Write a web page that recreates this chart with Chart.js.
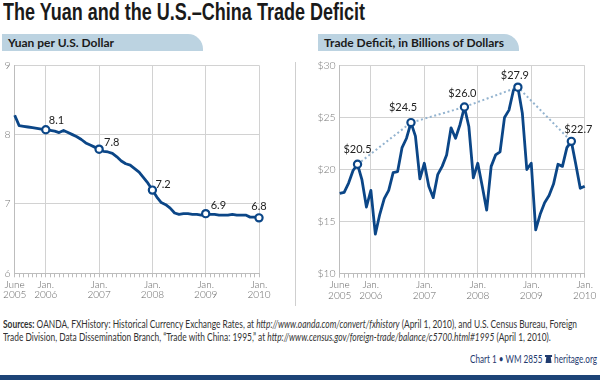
<!DOCTYPE html>
<html>
<head>
<meta charset="utf-8">
<script src="https://cdn.jsdelivr.net/npm/chart.js@4"></script>
<style>
  body { margin: 0; width: 600px; height: 380px; background: #fff; position: relative; overflow: hidden; font-family: Lato, "Open Sans", sans-serif; }
  #title { position: absolute; left: 3px; top: -1px; font-family: "Liberation Sans", sans-serif; font-weight: bold; font-size: 23px; color: #1a1a1a; white-space: nowrap; transform-origin: 0 0; }
  .banner { position: absolute; top: 34px; height: 17px; background: #bcd3e1; border-top-right-radius: 15px; font-weight: bold; font-size: 12px; line-height: 17px; color: #1a1a1a; white-space: nowrap; }
  #b1 { left: 2px; width: 201px; padding-left: 6px; box-sizing: border-box; }
  #b2 { left: 318px; width: 201px; padding-left: 6px; box-sizing: border-box; }
  #sep { position: absolute; left: 295px; top: 62px; width: 1px; height: 244px; background: #cfcfcf; }
  canvas { position: absolute; }
  #c1 { left: 0; top: 55px; }
  #c2 { left: 300px; top: 55px; }
  #src { position: absolute; left: 3px; top: 318px; font-family: Lato, sans-serif; font-size: 10.5px; line-height: 13px; color: #333; white-space: nowrap; transform-origin: 0 0; }
  #credit { position: absolute; left: 470px; top: 352px; font-family: Lato, sans-serif; font-size: 11px; color: #1f3a6e; white-space: nowrap; transform-origin: 0 0; }
  #bar { position: absolute; left: 0; top: 375px; width: 600px; height: 5px; background: #1d4477; }
</style>
</head>
<body>
<div id="title">The Yuan and the U.S.–China Trade Deficit</div>
<div class="banner" id="b1">Yuan per U.S. Dollar</div>
<div class="banner" id="b2">Trade Deficit, in Billions of Dollars</div>
<div id="sep"></div>
<canvas id="c1" width="290" height="252"></canvas>
<canvas id="c2" width="300" height="252"></canvas>
<div id="src"><span id="srcLine"><b>Sources:</b> OANDA, FXHistory: Historical Currency Exchange Rates, at <i>http://www.oanda.com/convert/fxhistory</i> (April 1, 2010), and U.S. Census Bureau, Foreign</span><br>Trade Division, Data Dissemination Branch, “Trade with China: 1995,” at <i>http://www.census.gov/foreign-trade/balance/c5700.html#1995</i> (April 1, 2010).</div>
<div id="credit">Chart 1 • WM 2855 <svg width="10" height="10" viewBox="0 0 10 10" style="vertical-align:-1px"><rect x="0" y="1" width="10" height="2" fill="#1f3a6e"/><path d="M2 3 L8 3 L9 9 L1 9 Z" fill="#1f3a6e"/></svg> heritage.org</div>
<div id="bar"></div>

<script>
// ===== 数据 =====
const months = [
    "2005-06", "2005-07", "2005-08", "2005-09", "2005-10", "2005-11", "2005-12",
    "2006-01", "2006-02", "2006-03", "2006-04", "2006-05", "2006-06", "2006-07", "2006-08", "2006-09", "2006-10", "2006-11", "2006-12",
    "2007-01", "2007-02", "2007-03", "2007-04", "2007-05", "2007-06", "2007-07", "2007-08", "2007-09", "2007-10", "2007-11", "2007-12",
    "2008-01", "2008-02", "2008-03", "2008-04", "2008-05", "2008-06", "2008-07", "2008-08", "2008-09", "2008-10", "2008-11", "2008-12",
    "2009-01", "2009-02", "2009-03", "2009-04", "2009-05", "2009-06", "2009-07", "2009-08", "2009-09", "2009-10", "2009-11", "2009-12",
    "2010-01"
];

// 人民币 / 美元
const yuanPerDollar = [
    8.28, 8.13, 8.12, 8.11, 8.10, 8.09, 8.08,
    8.07, 8.06, 8.05, 8.03, 8.06, 8.03, 8.00, 7.97, 7.93, 7.88, 7.85, 7.82,
    7.79, 7.76, 7.75, 7.73, 7.68, 7.62, 7.58, 7.56, 7.51, 7.46, 7.38, 7.30,
    7.20, 7.10, 7.02, 6.99, 6.94, 6.87, 6.85, 6.86, 6.86, 6.85, 6.85, 6.84,
    6.86, 6.85, 6.85, 6.84, 6.84, 6.84, 6.85, 6.84, 6.84, 6.84, 6.81, 6.81,
    6.80
];

// 贸易逆差（十亿美元）
const tradeDeficit = [
    17.7, 17.8, 18.7, 19.9, 20.5, 19.0, 16.4,
    18.0, 13.8, 15.7, 17.2, 18.0, 19.7, 19.8, 22.1, 23.0, 24.5, 23.2, 19.1,
    20.6, 18.4, 17.3, 19.5, 20.3, 21.4, 24.0, 23.0, 24.3, 26.0, 24.1, 19.2,
    20.6, 18.4, 16.1, 20.3, 21.4, 21.7, 25.0, 25.7, 27.6, 27.9, 25.4, 20.0,
    20.6, 14.2, 15.7, 16.8, 17.5, 18.6, 20.5, 20.3, 22.1, 22.7, 20.5, 18.2,
    18.4
];

// 标注的点
const yuanMarked = [7, 19, 31, 43, 55];
const deficitMarked = [4, 16, 28, 40, 52];

// x 轴刻度
const yearTickIndex = [0, 7, 19, 31, 43, 55];
const yearTickLabels = [["June", "2005"], ["Jan.", "2006"], ["Jan.", "2007"], ["Jan.", "2008"], ["Jan.", "2009"], ["Jan.", "2010"]];

// 左右 y 轴
const yuanTicks = [6, 7, 8, 9];
const deficitTicks = [10, 15, 20, 25, 30];

const peakLine = tradeDeficit.map((v, i) => deficitMarked.includes(i) ? v : null);

const BLUE = "#0b4687";
const GRID = "#d2d2d2";

// 文字横向压缩到目标宽度
function fitWidth(id, target) {
    const el = document.getElementById(id);
    const w = el.getBoundingClientRect().width;
    el.style.transform = "scaleX(" + (target / w) + ")";
}
fitWidth("title", 362);
fitWidth("credit", 127);
(function () {
    const w = document.getElementById("srcLine").getBoundingClientRect().width;
    document.getElementById("src").style.transform = "scaleX(" + (574 / w) + ")";
})();

// ===== 点标注插件 =====
const markLabels = {
    id: "markLabels",
    afterDatasetsDraw(chart, args, opts) {
        const meta = chart.getDatasetMeta(0);
        const c = chart.ctx;
        c.save();
        c.font = "11px Lato, sans-serif";
        c.fillStyle = "#222";
        c.textBaseline = "middle";
        opts.indices.forEach((idx, k) => {
            const p = meta.data[idx];
            const off = opts.offsets[k];
            c.textAlign = off[2];
            c.fillText(opts.format(chart.data.datasets[0].data[idx]), p.x + off[0], p.y + off[1]);
        });
        c.restore();
    }
};

function xScale(height) {
    return {
        type: "category",
        offset: false,
        afterFit: s => { s.height = height; },
        grid: {
            color: ctx => yearTickIndex.includes(ctx.index) ? GRID : "rgba(0,0,0,0)",
            tickColor: "#bdbdbd",
            tickLength: 4,
            lineWidth: 1
        },
        border: { color: "#bdbdbd" },
        ticks: {
            autoSkip: false,
            maxRotation: 0,
            padding: 2,
            color: "#666",
            font: { family: "Lato", size: 10, weight: 300, lineHeight: 1.05 },
            callback: (v, i) => {
                const k = yearTickIndex.indexOf(i);
                return k >= 0 ? yearTickLabels[k] : "";
            }
        }
    };
}

function yScale(width, tickVals, fmt) {
    return {
        min: tickVals[0],
        max: tickVals[tickVals.length - 1],
        afterFit: s => { s.width = width; },
        afterBuildTicks: s => { s.ticks = tickVals.map(v => ({ value: v })); },
        grid: { color: GRID, drawTicks: false },
        border: { color: "#bdbdbd" },
        ticks: {
            padding: 4,
            color: "#777",
            font: { family: "Lato", size: 10.5, weight: 300 },
            callback: fmt
        }
    };
}

// ===== 左图 =====
new Chart(document.getElementById("c1"), {
    type: "line",
    data: {
        labels: months,
        datasets: [{
            data: yuanPerDollar,
            borderColor: BLUE,
            borderWidth: 2.8,
            tension: 0,
            borderJoinStyle: "round",
            pointRadius: ctx => yuanMarked.includes(ctx.dataIndex) ? 3.6 : 0,
            pointBorderWidth: 2.2,
            pointBorderColor: BLUE,
            pointBackgroundColor: "#fff"
        }]
    },
    options: {
        responsive: false,
        animation: false,
        layout: { padding: { top: 8.3, right: 31, left: 0, bottom: 0 } },
        plugins: {
            legend: { display: false },
            tooltip: { enabled: false },
            markLabels: {
                indices: yuanMarked,
                offsets: [[3, -9, "left"], [5, -7, "left"], [3, -6, "left"], [5, -8, "left"], [0, -11, "center"]],
                format: v => v.toFixed(1)
            }
        },
        scales: {
            x: xScale(33.7),
            y: yScale(14.7, yuanTicks, v => v)
        }
    },
    plugins: [markLabels]
});

// ===== 右图 =====
new Chart(document.getElementById("c2"), {
    type: "line",
    data: {
        labels: months,
        datasets: [{
            data: tradeDeficit,
            borderColor: BLUE,
            borderWidth: 2.8,
            tension: 0,
            borderJoinStyle: "round",
            pointRadius: ctx => deficitMarked.includes(ctx.dataIndex) ? 3.6 : 0,
            pointBorderWidth: 2.2,
            pointBorderColor: BLUE,
            pointBackgroundColor: "#fff"
        }, {
            data: peakLine,
            spanGaps: true,
            borderColor: "#93b3cf",
            borderWidth: 2,
            borderDash: [2, 2.6],
            pointRadius: 0,
            tension: 0
        }]
    },
    options: {
        responsive: false,
        animation: false,
        layout: { padding: { top: 8.3, right: 15.3, left: 0, bottom: 0 } },
        plugins: {
            legend: { display: false },
            tooltip: { enabled: false },
            markLabels: {
                indices: deficitMarked,
                offsets: [[0, -15, "center"], [-8, -15, "center"], [-2, -14, "center"], [-3, -12, "center"], [7, -12, "center"]],
                format: v => "$" + v.toFixed(1)
            }
        },
        scales: {
            x: xScale(33.3),
            y: yScale(39.7, deficitTicks, v => "$" + v)
        }
    },
    plugins: [markLabels]
});
</script>
</body>
</html>
